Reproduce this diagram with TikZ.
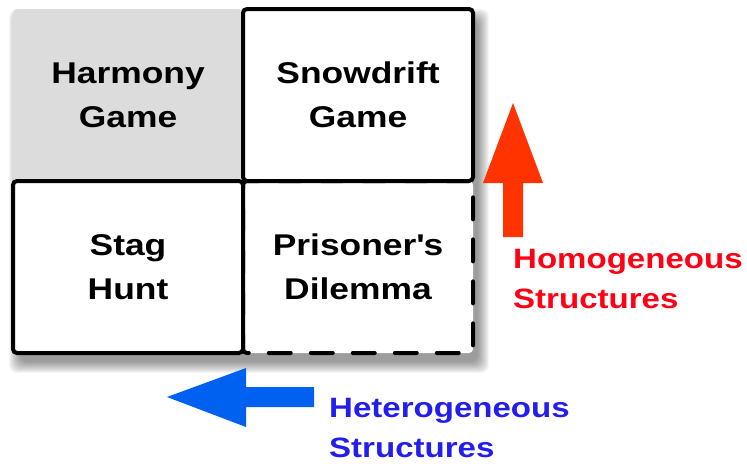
\documentclass[tikz,border=0pt]{standalone}
\usepackage{fontspec}
\setmainfont{Liberation Sans}[FakeStretch=1.18]
\usetikzlibrary{positioning, calc}
\definecolor{harmgray}{RGB}{220,220,220}
\definecolor{homred}{RGB}{255,0,20}
\definecolor{homarrow}{RGB}{255,51,0}
\definecolor{hetblue}{RGB}{35,30,235}
\definecolor{hetarrow}{RGB}{0,96,240}
\tikzset{
	game/.style={
		minimum width=230pt, minimum height=172pt, rounded corners=4pt,
		align=center, inner sep=0pt, font=\fontsize{30}{44}\selectfont\bfseries
	},
	structtext/.style={
		anchor=north west, inner sep=0pt, align=left,
		font=\fontsize{28}{40}\selectfont\bfseries
	}
}

\begin{document}
\begin{tikzpicture}[x=1pt, y=-1pt,
	solidbox/.style={game, draw, fill=white, line width=4pt},
	dashbox/.style={game, draw, fill=white, line width=4pt, line cap=round, dash pattern=on 22pt off 20pt}]
	\useasboundingbox (0,0) rectangle (747,469);
	\foreach \i in {1,...,12}
		\fill[black, opacity=0.04, rounded corners=8pt] (21-\i,21-\i) rectangle (477+\i,361+\i);
	\node[game, fill=harmgray] (HG) at (128,95) {Harmony\\Game};
	\node[dashbox] (PD) at (358,267) {Prisoner\textquotesingle s\\Dilemma};
	\node[solidbox] (SG) at (358,95) {Snowdrift\\Game};
	\node[solidbox] (SH) at (128,267) {Stag\\Hunt};
	\fill[homarrow] (513,103) -- (543,183) -- (523,183) -- (523,237) -- (503,237) -- (503,183) -- (483,183) -- cycle;
	\fill[hetarrow] (167,397) -- (246,368) -- (246,387) -- (314,387) -- (314,407) -- (246,407) -- (246,427) -- cycle;
	\node[structtext, text=homred] (homo) at (513,249) {Homogeneous\\Structures};
	\node[structtext, text=hetblue] (hetero) at (329,398) {Heterogeneous\\Structures};
\end{tikzpicture}
\end{document}
